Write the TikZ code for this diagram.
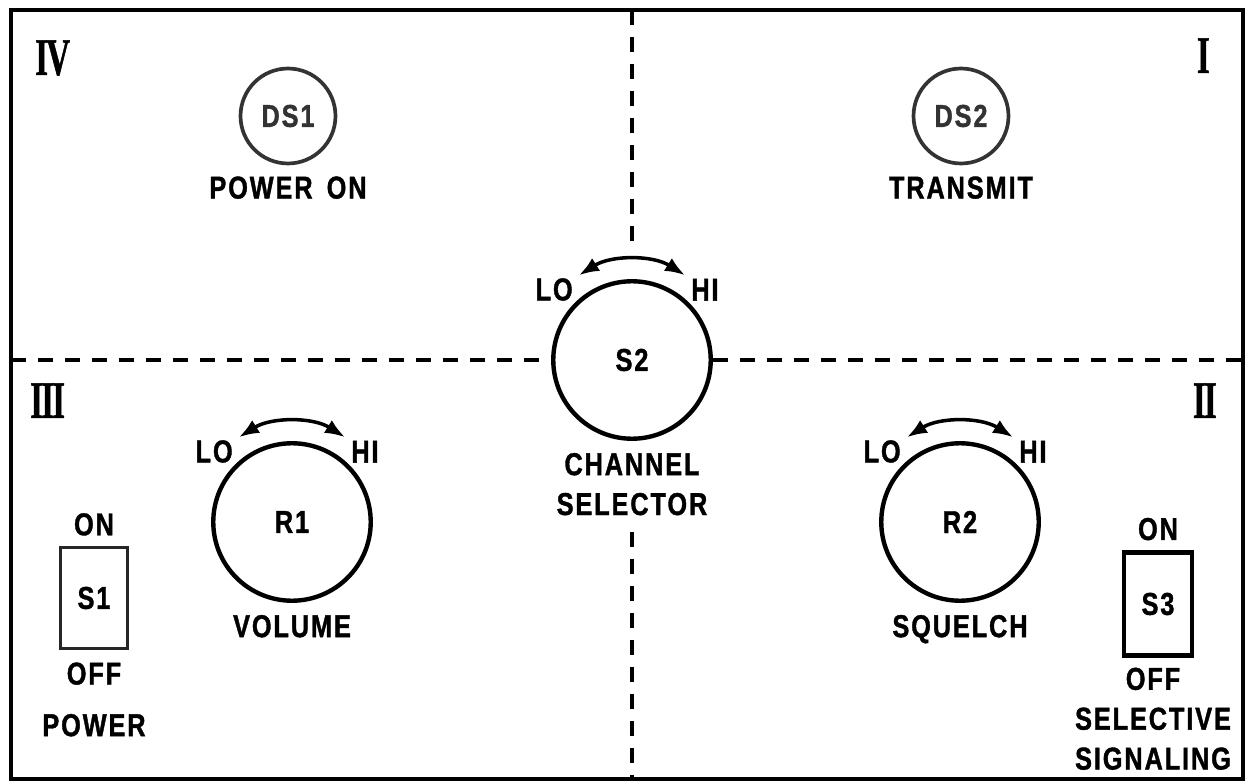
\documentclass[tikz,border=0pt]{standalone}
\usepackage{fontspec}
\usepackage{tikz}
\usetikzlibrary{positioning}
\usetikzlibrary{arrows.meta}
\newfontfamily\panelfont{Liberation Sans}[FakeStretch=0.8,LetterSpace=6,FakeBold=1.2]
\newfontfamily\romfont{Liberation Serif}[FakeStretch=0.62,FakeBold=1]
\newcommand{\dial}[1]{\draw[sweep] (#1.center) ++(122:2cm)
                        arc[start angle=122,end angle=58,radius=2cm];
                      \node[lab,anchor=south east] (#1lo) at (#1.north west) {LO};
                      \node[lab,anchor=south west] (#1hi) at (#1.north east) {HI};
                     }

\begin{document}
\begin{tikzpicture}[x=0.02cm,y=0.02cm,
   lab/.style={font=\panelfont\bfseries\fontsize{18}{22.7}\selectfont,inner sep=1pt,align=center},
   rom/.style={font=\romfont\bfseries\fontsize{30}{30}\selectfont,inner sep=0pt},
   knob/.style={lab,circle,draw=black,line width=2.5pt,minimum size=3.15cm},
   lamp/.style={lab,circle,draw=black!80,text=black!80,line width=2.1pt,minimum size=1.9cm},
   toggle/.style={lab,rectangle,draw=black!85,line width=1.8pt},
   sweep/.style={line width=2pt,{Latex[length=4mm,width=3mm]}-{Latex[length=4mm,width=3mm]}},
   divider/.style={line width=2pt,dash pattern=on 0.3cm off 0.24cm}]
 \useasboundingbox (0,0) rectangle (1247,-783);
 \draw[line width=2.4pt] (11,-10) rectangle (1243,-779);

 \node[rom,anchor=north west] (q4) at (35,-40)   {I\kern-1pt V};
 \node[rom,anchor=north east] (q1) at (1210,-38) {I};
 \node[rom,anchor=north west] (q3) at (30,-383)  {I\kern-1pt I\kern-1pt I};
 \node[rom,anchor=north east] (q2) at (1217,-383) {I\kern-1pt I};

 \draw (632,-360) node[knob] (S2) {S2};
 \draw (292,-522) node[knob] (R1) {R1};
 \draw (960,-522) node[knob] (R2) {R2};
 \draw (288,-116) node[lamp] (DS1) {DS1};
 \draw (961,-116) node[lamp] (DS2) {DS2};
 \draw (94,-598)  node[toggle,minimum width=1.34cm,minimum height=2.03cm] (S1) {S1};
 \draw (1158,-604) node[toggle,draw=black,line width=2.4pt,
                        minimum width=1.36cm,minimum height=2.06cm] (S3) {S3};

 \dial{S2}
 \dial{R1}
 \dial{R2}

 \node[lab,below=0.2cm of S2]   (S2n)  {CHANNEL\\SELECTOR};
 \node[lab,below=0.2cm of R1]   (R1n)  {VOLUME};
 \node[lab,below=0.2cm of R2]   (R2n)  {SQUELCH};
 \node[lab,below=0.18cm of DS1] (DS1n) {POWER\hspace{8pt}ON};
 \node[lab,below=0.18cm of DS2] (DS2n) {TRANSMIT};
 \node[lab,above=0.16cm of S1]  (S1on) {ON};
 \node[lab,below=0.2cm of S1]   (S1off) {OFF};
 \node[lab,below=0.5cm of S1off] (S1n) {POWER};
 \node[lab,above=0.16cm of S3]  (S3on) {ON};
 \node[lab,below=0.16cm of S3,xshift=-0.1cm] (S3off) {OFF\\SELECTIVE\\SIGNALING};

 \coordinate (T)  at (632,-10);
 \coordinate (Ta) at (632,-252);
 \coordinate (Bb) at (632,-532);
 \coordinate (B)  at (632,-779);
 \coordinate (L)  at (11,-360);
 \coordinate (R)  at (1243,-360);
 \draw[divider] (T) -- (Ta);
 \draw[divider] (Bb) -- (B);
 \draw[divider] (L) -- (S2.west);
 \draw[divider] (S2.east) -- (R);

\end{tikzpicture}
\end{document}
